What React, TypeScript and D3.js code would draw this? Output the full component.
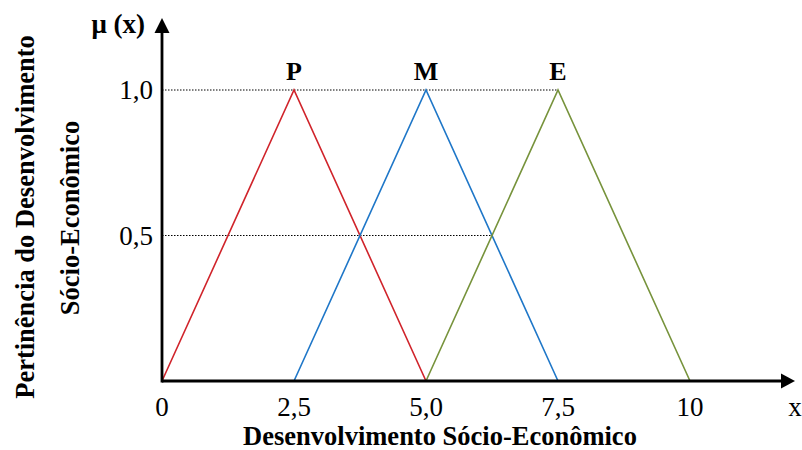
import React from "react";
import * as d3 from "d3";

const xTicks = [0, 2.5, 5, 7.5, 10];
const xTickLabels = ["0", "2,5", "5,0", "7,5", "10"];
const yTicks = [0.5, 1.0];
const yTickLabels = ["0,5", "1,0"];
const setNames = ["P", "M", "E"];
const setColors = ["#D0242B", "#1F77C8", "#77933C"];
const setPoints: [number, number][][] = [
  [[0, 0], [2.5, 1], [5, 0]],
  [[2.5, 0], [5, 1], [7.5, 0]],
  [[5, 0], [7.5, 1], [10, 0]],
];
const guideLines: [number, number, number][] = [
  [1.0, 0, 7.5],
  [0.5, 0, 6.25],
];

export default function App() {
  const W = 802, H = 450;
  const x = d3.scaleLinear().domain([0, 10]).range([162, 690]);
  const y = d3.scaleLinear().domain([0, 1]).range([381, 90]);
  const line = d3.line<[number, number]>().x(d => x(d[0])).y(d => y(d[1]));
  const font = "'Liberation Serif', 'Times New Roman', serif";
  const x0 = x(0), y0 = y(0);
  return (
    <svg width={W} height={H} style={{ position: "absolute", left: 0, top: 0 }} fontFamily={font}>
      <rect width={W} height={H} fill="#fff" />
      {guideLines.map(([v, a, b], i) => (
        <line key={i} x1={x(a)} x2={x(b)} y1={y(v)} y2={y(v)} stroke="#000" strokeWidth={1} strokeDasharray="1.5,1.5" />
      ))}
      {setPoints.map((pts, i) => (
        <path key={i} d={line(pts) || ""} fill="none" stroke={setColors[i]} strokeWidth={1.6} />
      ))}
      {/* axes */}
      <line x1={x0} x2={783} y1={y0} y2={y0} stroke="#000" strokeWidth={2.8} />
      <path d={`M${795},${y0} L${781},${y0 - 7.5} L${781},${y0 + 7.5} Z`} fill="#000" />
      <line x1={x0} x2={x0} y1={y0 + 1.4} y2={30} stroke="#000" strokeWidth={2.8} />
      <path d={`M${x0},${18} L${x0 - 7.5},${33} L${x0 + 7.5},${33} Z`} fill="#000" />
      {xTicks.map((t, i) => (
        <text key={i} x={x(t)} y={416} fontSize={27} textAnchor="middle" fill="#000">{xTickLabels[i]}</text>
      ))}
      <text x={795} y={416} fontSize={27} textAnchor="middle" fill="#000">x</text>
      {yTicks.map((t, i) => (
        <text key={i} x={153} y={y(t) + 9} fontSize={27} textAnchor="end" fill="#000">{yTickLabels[i]}</text>
      ))}
      <text x={145} y={33} fontSize={27} fontWeight="bold" textAnchor="end" fill="#000">μ (x)</text>
      {setPoints.map((pts, i) => (
        <text key={i} x={x(pts[1][0])} y={80} fontSize={26} fontWeight="bold" textAnchor="middle" fill="#000">{setNames[i]}</text>
      ))}
      <text x={440} y={445} fontSize={26.5} fontWeight="bold" textAnchor="middle" fill="#000">Desenvolvimento Sócio-Econômico</text>
      <text transform="translate(34,217) rotate(-90)" fontSize={26.5} fontWeight="bold" textAnchor="middle" fill="#000">Pertinência do Desenvolvimento</text>
      <text transform="translate(79,218) rotate(-90)" fontSize={26.5} fontWeight="bold" textAnchor="middle" fill="#000">Sócio-Econômico</text>
    </svg>
  );
}
